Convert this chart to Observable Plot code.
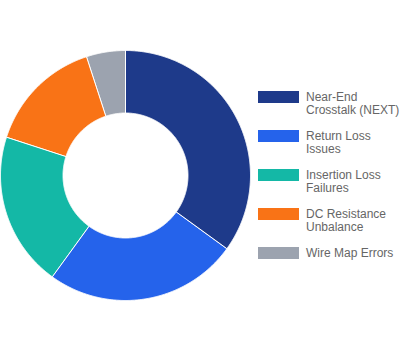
<!DOCTYPE html>
<html>
<head>
<meta charset="utf-8">
<script src="https://cdn.jsdelivr.net/npm/d3@7"></script>
<script src="https://cdn.jsdelivr.net/npm/@observablehq/plot@0.6"></script>
<style>
  html, body { margin: 0; padding: 0; background: #fff; }
  #wrap { position: relative; width: 408px; height: 350px; font-family: "Liberation Sans", Arial, sans-serif; }
  #wrap svg { position: absolute; left: 0; top: 0; }
  .leg { position: absolute; left: 258px; font-size: 12px; color: #666; }
  .sw { position: absolute; left: 0; width: 41px; height: 12px; }
  .tx { position: absolute; left: 48px; white-space: nowrap; line-height: 13.5px; }
</style>
</head>
<body>
<div id="wrap"></div>
<script>
const categories = ["Near-End Crosstalk (NEXT)", "Return Loss Issues", "Insertion Loss Failures", "DC Resistance Unbalance", "Wire Map Errors"];
const labelLines = [["Near-End", "Crosstalk (NEXT)"], ["Return Loss", "Issues"], ["Insertion Loss", "Failures"], ["DC Resistance", "Unbalance"], ["Wire Map Errors"]];
const values = [35, 25, 20, 15, 5];
const colors = ["#1e3a8a", "#2563eb", "#14b8a6", "#f97316", "#9ca3af"];

const outerR = 1, innerR = 0.5;
const arcs = d3.pie().sort(null)(values);
const features = arcs.map((a, i) => {
  const n = Math.max(4, Math.ceil((a.endAngle - a.startAngle) / 0.005));
  const ring = [];
  for (let k = 0; k <= n; k++) {
    const t = a.startAngle + (a.endAngle - a.startAngle) * k / n;
    ring.push([outerR * Math.sin(t), -outerR * Math.cos(t)]);
  }
  for (let k = n; k >= 0; k--) {
    const t = a.startAngle + (a.endAngle - a.startAngle) * k / n;
    ring.push([innerR * Math.sin(t), -innerR * Math.cos(t)]);
  }
  ring.push(ring[0]);
  return {type: "Feature", properties: {category: categories[i], value: values[i]}, geometry: {type: "Polygon", coordinates: [ring]}};
});

const chart = Plot.plot({
  width: 408,
  height: 350,
  marginLeft: 0,
  marginTop: 50,
  marginRight: 158,
  marginBottom: 50,
  projection: {type: "identity", domain: {type: "MultiPoint", coordinates: [[-outerR, -outerR], [outerR, outerR]]}},
  color: {domain: categories, range: colors},
  marks: [
    Plot.geo(features, {fill: d => d.properties.category, stroke: "white", strokeWidth: 1})
  ]
});
const wrap = document.getElementById("wrap");
wrap.appendChild(chart);

categories.forEach((c, i) => {
  const row = document.createElement("div");
  row.className = "leg";
  row.style.top = (91 + 39 * i) + "px";
  const sw = document.createElement("div");
  sw.className = "sw";
  sw.style.background = colors[i];
  row.appendChild(sw);
  const tx = document.createElement("div");
  tx.className = "tx";
  tx.style.top = "-0.5px";
  tx.innerHTML = labelLines[i].join("<br>");
  row.appendChild(tx);
  wrap.appendChild(row);
});
</script>
</body>
</html>
